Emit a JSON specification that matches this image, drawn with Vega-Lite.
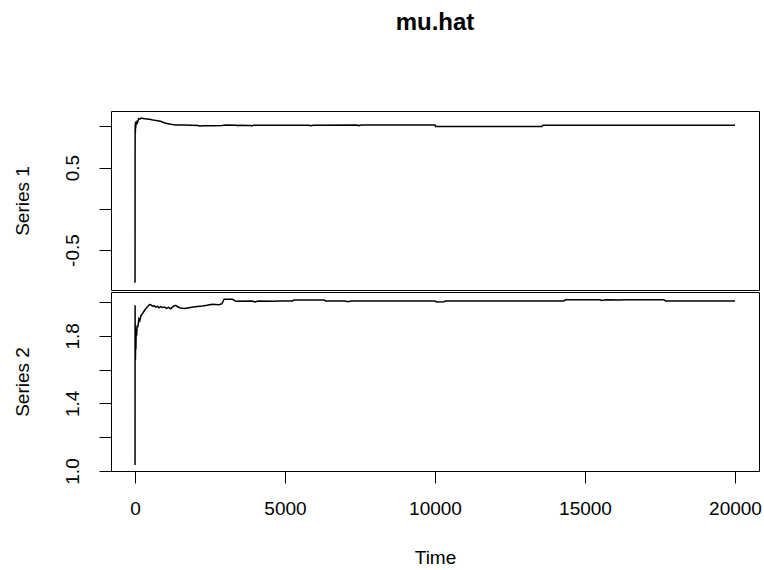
{
  "$schema": "https://vega.github.io/schema/vega-lite/v6.json",
  "padding": {"left": 12, "top": 10, "right": 4, "bottom": 0},
  "spacing": 0,
  "title": {"text": "mu.hat", "font": "Liberation Sans", "fontSize": 24, "fontWeight": "bold", "color": "#000", "anchor": "middle", "frame": "group", "offset": 76},
  "config": {
    "view": {"stroke": "#000", "strokeWidth": 1},
    "axis": {"domain": false, "grid": false, "tickColor": "#000", "tickSize": 12, "tickWidth": 1, "labelFont": "Liberation Sans", "labelFontSize": 19, "labelColor": "#000", "titleFont": "Liberation Sans", "titleFontSize": 19, "titleFontWeight": "normal", "titleColor": "#000", "labelOverlap": false}
  },
  "datasets": {
    "s1": [
      {"t": 1, "v": -0.895}, {"t": 3, "v": 0.55}, {"t": 5, "v": 0.95}, {"t": 8, "v": 1.02}, {"t": 12, "v": 0.92},
      {"t": 18, "v": 1.05}, {"t": 25, "v": 0.98}, {"t": 35, "v": 1.06}, {"t": 50, "v": 1.02}, {"t": 70, "v": 1.07},
      {"t": 90, "v": 1.05}, {"t": 120, "v": 1.09}, {"t": 160, "v": 1.085}, {"t": 200, "v": 1.1}, {"t": 260, "v": 1.095},
      {"t": 320, "v": 1.09}, {"t": 400, "v": 1.088}, {"t": 480, "v": 1.085}, {"t": 560, "v": 1.078}, {"t": 650, "v": 1.072},
      {"t": 750, "v": 1.068}, {"t": 850, "v": 1.06}, {"t": 950, "v": 1.045}, {"t": 1030, "v": 1.036}, {"t": 1150, "v": 1.028},
      {"t": 1250, "v": 1.02}, {"t": 1360, "v": 1.016}, {"t": 1600, "v": 1.014}, {"t": 1900, "v": 1.012}, {"t": 2100, "v": 1.01},
      {"t": 2150, "v": 1.004}, {"t": 2300, "v": 1.006}, {"t": 2600, "v": 1.005}, {"t": 2900, "v": 1.008}, {"t": 3020, "v": 1.014},
      {"t": 3400, "v": 1.012}, {"t": 3420, "v": 1.006}, {"t": 3480, "v": 1.012}, {"t": 3850, "v": 1.01}, {"t": 3880, "v": 1.004},
      {"t": 3950, "v": 1.012}, {"t": 5800, "v": 1.012}, {"t": 5850, "v": 1.006}, {"t": 5950, "v": 1.012}, {"t": 7400, "v": 1.014},
      {"t": 7450, "v": 1.008}, {"t": 7550, "v": 1.014}, {"t": 10000, "v": 1.014}, {"t": 10020, "v": 0.998}, {"t": 13560, "v": 0.998},
      {"t": 13600, "v": 1.012}, {"t": 20000, "v": 1.012}
    ],
    "s2": [
      {"t": 1, "v": 1.035}, {"t": 3, "v": 1.98}, {"t": 6, "v": 1.75}, {"t": 10, "v": 1.85}, {"t": 15, "v": 1.66},
      {"t": 22, "v": 1.8}, {"t": 30, "v": 1.72}, {"t": 40, "v": 1.84}, {"t": 55, "v": 1.8}, {"t": 70, "v": 1.86},
      {"t": 90, "v": 1.85}, {"t": 110, "v": 1.872}, {"t": 130, "v": 1.9}, {"t": 160, "v": 1.89}, {"t": 200, "v": 1.92},
      {"t": 245, "v": 1.93}, {"t": 300, "v": 1.945}, {"t": 355, "v": 1.96}, {"t": 420, "v": 1.972}, {"t": 480, "v": 1.985},
      {"t": 525, "v": 1.984}, {"t": 580, "v": 1.975}, {"t": 630, "v": 1.978}, {"t": 690, "v": 1.97}, {"t": 750, "v": 1.974},
      {"t": 800, "v": 1.966}, {"t": 860, "v": 1.972}, {"t": 910, "v": 1.967}, {"t": 980, "v": 1.97}, {"t": 1050, "v": 1.962},
      {"t": 1120, "v": 1.968}, {"t": 1190, "v": 1.96}, {"t": 1280, "v": 1.975}, {"t": 1360, "v": 1.98}, {"t": 1430, "v": 1.97},
      {"t": 1520, "v": 1.964}, {"t": 1650, "v": 1.962}, {"t": 1800, "v": 1.966}, {"t": 2000, "v": 1.972}, {"t": 2250, "v": 1.976},
      {"t": 2400, "v": 1.98}, {"t": 2580, "v": 1.986}, {"t": 2800, "v": 1.984}, {"t": 2900, "v": 1.99}, {"t": 2970, "v": 2.016},
      {"t": 3250, "v": 2.016}, {"t": 3360, "v": 2.004}, {"t": 3900, "v": 2.006}, {"t": 4000, "v": 2.0}, {"t": 4100, "v": 2.006},
      {"t": 4600, "v": 2.004}, {"t": 4800, "v": 2.006}, {"t": 5250, "v": 2.006}, {"t": 5300, "v": 2.012}, {"t": 6300, "v": 2.012},
      {"t": 6350, "v": 2.006}, {"t": 7000, "v": 2.006}, {"t": 7100, "v": 2.002}, {"t": 7200, "v": 2.006}, {"t": 10000, "v": 2.006},
      {"t": 10050, "v": 2.0}, {"t": 10300, "v": 2.002}, {"t": 10350, "v": 2.006}, {"t": 14300, "v": 2.006}, {"t": 14350, "v": 2.013},
      {"t": 15500, "v": 2.013}, {"t": 15550, "v": 2.009}, {"t": 15700, "v": 2.013}, {"t": 16200, "v": 2.011}, {"t": 16300, "v": 2.013},
      {"t": 17630, "v": 2.013}, {"t": 17680, "v": 2.006}, {"t": 20000, "v": 2.006}
    ]
  },
  "vconcat": [
    {
      "width": 648,
      "height": 179,
      "data": {"name": "s1"},
      "mark": {"type": "line", "color": "#000", "strokeWidth": 1.5},
      "encoding": {
        "x": {"field": "t", "type": "quantitative", "scale": {"domain": [-800, 20800], "nice": false, "zero": false}, "axis": null},
        "y": {"field": "v", "type": "quantitative", "scale": {"domain": [-0.984, 1.185], "nice": false, "zero": false},
          "axis": {"title": "Series 1", "values": [-0.5, 0, 0.5, 1.0], "labelAngle": 270, "labelAlign": "center", "labelBaseline": "bottom", "labelPadding": 17, "titlePadding": 31,
            "labelExpr": "datum.value == 0.5 ? '0.5' : (datum.value == -0.5 ? '-0.5' : '')"}}
      }
    },
    {
      "width": 648,
      "height": 179,
      "data": {"name": "s2"},
      "mark": {"type": "line", "color": "#000", "strokeWidth": 1.5},
      "encoding": {
        "x": {"field": "t", "type": "quantitative", "scale": {"domain": [-800, 20800], "nice": false, "zero": false},
          "axis": {"title": "Time", "values": [0, 5000, 10000, 15000, 20000], "format": "d", "labelFlush": false, "labelPadding": 16, "titlePadding": 30}},
        "y": {"field": "v", "type": "quantitative", "scale": {"domain": [1.0, 2.059], "nice": false, "zero": false},
          "axis": {"title": "Series 2", "values": [1.0, 1.2, 1.4, 1.6, 1.8, 2.0], "labelAngle": 270, "labelAlign": "center", "labelBaseline": "bottom", "labelPadding": 17, "titlePadding": 31,
            "labelExpr": "abs(datum.value - 1.0) < 0.01 ? '1.0' : (abs(datum.value - 1.4) < 0.01 ? '1.4' : (abs(datum.value - 1.8) < 0.01 ? '1.8' : ''))"}}
      }
    }
  ]
}
